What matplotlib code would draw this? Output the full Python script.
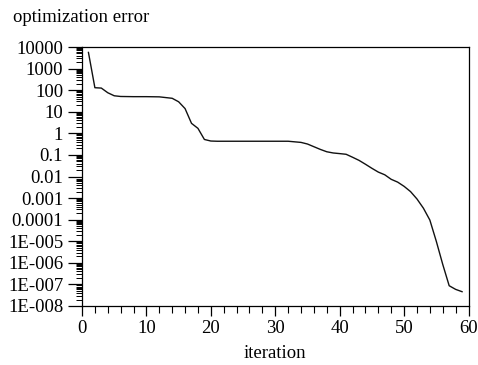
import matplotlib
matplotlib.use("Agg")
import matplotlib.pyplot as plt
from matplotlib.ticker import FixedLocator, FixedFormatter, LogLocator, NullFormatter, MultipleLocator

plt.rcParams['font.family'] = ['Liberation Serif', 'DejaVu Serif']

iteration = [1, 2, 3, 4, 5, 6, 8, 10, 12, 14, 15, 16, 17, 18, 19, 20, 21,
             25, 30, 32, 34, 35, 36, 37, 38, 39, 40, 41, 42, 43, 44, 45, 46,
             47, 48, 49, 50, 51, 52, 53, 54, 55, 56, 57, 58, 59]
error = [5600, 130, 125, 76, 55, 51, 50, 50, 49, 42, 29, 14, 2.9, 1.7, 0.52, 0.44, 0.43,
         0.43, 0.43, 0.43, 0.38, 0.32, 0.24, 0.18, 0.14, 0.123, 0.115, 0.107, 0.078, 0.056, 0.037, 0.024, 0.016,
         0.012, 0.0074, 0.0055, 0.0035, 0.0020, 0.00091, 0.00034, 9.6e-5, 1.0e-5, 8.5e-7, 8.7e-8, 5.9e-8, 4.6e-8]

ytick_vals = [1e4, 1e3, 1e2, 1e1, 1, 0.1, 0.01, 1e-3, 1e-4, 1e-5, 1e-6, 1e-7, 1e-8]
ytick_labels = ["10000", "1000", "100", "10", "1", "0.1", "0.01", "0.001", "0.0001",
                "1E-005", "1E-006", "1E-007", "1E-008"]
xtick_vals = [0, 10, 20, 30, 40, 50, 60]

title_text = "optimization error"
xlabel_text = "iteration"

fig = plt.figure(figsize=(4.78, 3.65), dpi=100)
ax = fig.add_axes([82/478, 1-306/365, (468.5-82)/478, (306-47)/365])

ax.plot(iteration, error, color='#111111', lw=1.0)
ax.set_yscale('log')
ax.set_xlim(0, 60)
ax.set_ylim(1e-8, 1e4)

ax.yaxis.set_major_locator(FixedLocator(ytick_vals))
ax.yaxis.set_major_formatter(FixedFormatter(ytick_labels))
ax.yaxis.set_minor_locator(LogLocator(base=10, subs=range(2, 10), numticks=100))
ax.yaxis.set_minor_formatter(NullFormatter())
ax.xaxis.set_major_locator(FixedLocator(xtick_vals))
ax.xaxis.set_minor_locator(MultipleLocator(2))

fs = 13.5
ax.tick_params(axis='y', which='major', direction='out', length=10, width=0.9, pad=3.5, labelsize=fs)
ax.tick_params(axis='y', which='minor', direction='out', length=4.5, width=0.7)
ax.tick_params(axis='x', which='major', direction='out', length=7.5, width=0.9, pad=2.5, labelsize=fs)
ax.tick_params(axis='x', which='minor', direction='out', length=5, width=0.8)
ax.tick_params(top=False, right=False, which='both')
for s in ax.spines.values():
    s.set_linewidth(0.9)

fig.text(13/478, 1-17/365, title_text, fontsize=fs, ha='left', va='center')
fig.text(275/478, 1-353/365, xlabel_text, fontsize=fs, ha='center', va='center')

fig.savefig("out.png", dpi=100)
